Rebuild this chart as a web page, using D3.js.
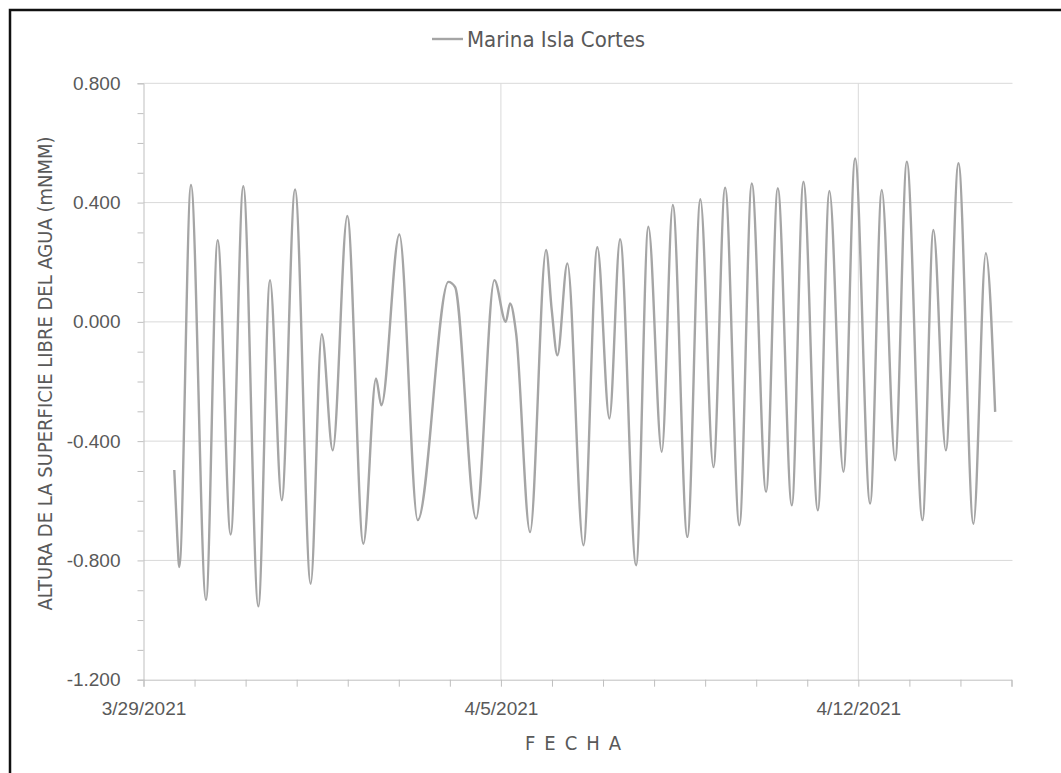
<!DOCTYPE html>
<html>
<head>
<meta charset="utf-8">
<script src="https://cdn.jsdelivr.net/npm/d3@7"></script>
<style>
  body { margin: 0; background: #fff; }
  text { font-family: "Liberation Sans", Arial, sans-serif; fill: #595959; }
</style>
</head>
<body>
<svg id="svg" width="1061" height="773"></svg>
<script>
// nivel del agua, Marina Isla Cortes
const fechas = [
  "2021-03-29 14:28", "2021-03-29 15:53", "2021-03-29 16:49", "2021-03-29 22:19",
  "2021-03-30 05:23", "2021-03-30 10:52", "2021-03-30 16:59", "2021-03-30 22:55",
  "2021-03-31 05:59", "2021-03-31 11:28", "2021-03-31 16:58", "2021-03-31 23:14",
  "2021-04-01 06:36", "2021-04-01 11:47", "2021-04-01 16:57", "2021-04-01 23:48",
  "2021-04-02 07:21", "2021-04-02 13:18", "2021-04-02 15:48", "2021-04-03 00:16",
  "2021-04-03 08:54", "2021-04-03 23:18", "2021-04-04 02:27", "2021-04-04 12:19",
  "2021-04-04 20:56", "2021-04-05 02:17", "2021-04-05 04:18", "2021-04-05 07:08",
  "2021-04-05 13:42", "2021-04-05 21:14", "2021-04-05 23:54", "2021-04-06 02:33",
  "2021-04-06 07:15", "2021-04-06 14:46", "2021-04-06 21:20", "2021-04-07 02:59",
  "2021-04-07 08:01", "2021-04-07 15:33", "2021-04-07 21:19", "2021-04-08 03:37",
  "2021-04-08 08:47", "2021-04-08 15:39", "2021-04-08 21:46", "2021-04-09 03:53",
  "2021-04-09 09:23", "2021-04-09 16:06", "2021-04-09 21:56", "2021-04-10 04:39",
  "2021-04-10 10:09", "2021-04-10 16:44", "2021-04-10 22:12", "2021-04-11 04:58",
  "2021-04-11 10:25", "2021-04-11 16:59", "2021-04-11 22:29", "2021-04-12 05:33",
  "2021-04-12 11:02", "2021-04-12 17:18", "2021-04-12 22:48", "2021-04-13 06:09",
  "2021-04-13 11:18", "2021-04-13 17:08", "2021-04-13 23:04", "2021-04-14 06:07",
  "2021-04-14 11:56", "2021-04-14 16:19"
];
const alturas = [
  -0.497, -0.721, -0.822, 0.459,
  -0.932, 0.274, -0.713, 0.455,
  -0.954, 0.140, -0.598, 0.444,
  -0.878, -0.041, -0.431, 0.355,
  -0.744, -0.190, -0.280, 0.293,
  -0.665, 0.134, 0.117, -0.660,
  0.140, 0.000, 0.062, -0.038,
  -0.705, 0.241, 0.039, -0.112,
  0.196, -0.749, 0.250, -0.324,
  0.277, -0.816, 0.319, -0.436,
  0.392, -0.721, 0.411, -0.487,
  0.450, -0.682, 0.464, -0.570,
  0.448, -0.615, 0.470, -0.632,
  0.439, -0.503, 0.548, -0.609,
  0.442, -0.464, 0.537, -0.665,
  0.308, -0.431, 0.532, -0.677,
  0.230, -0.302
];
const yTicks = [-1.2, -0.8, -0.4, 0, 0.4, 0.8];
const xLabelDates = ["2021-03-29", "2021-04-05", "2021-04-12"];
const serieName = "Marina Isla Cortes";

var width = 1061;
var height = 773;
var margin = {top: 83.3, right: 49.5, bottom: 93.3, left: 143.5};

var parseT = d3.timeParse("%Y-%m-%d %H:%M");
var parseD = d3.timeParse("%Y-%m-%d");
var data = fechas.map((f, i) => ({t: parseT(f), v: alturas[i]}));

var x = d3.scaleTime()
  .domain([parseD("2021-03-29"), parseD("2021-04-15")])
  .range([margin.left, width - margin.right]);

var y = d3.scaleLinear()
  .domain([-1.2, 0.8])
  .range([height - margin.bottom, margin.top]);

var svg = d3.select("#svg");

// marco negro
svg.append("rect")
    .attr("x", 10).attr("y", 10)
    .attr("width", width).attr("height", height)
    .attr("fill", "none")
    .attr("stroke", "#111")
    .attr("stroke-width", 2.5);

// grid horizontal
svg.append("g")
  .selectAll("line")
  .data(yTicks.filter(d => d > -1.2))
  .join("line")
    .attr("x1", x.range()[0])
    .attr("x2", x.range()[1] + 1)
    .attr("y1", d => y(d))
    .attr("y2", d => y(d))
    .attr("stroke", "#d9d9d9")
    .attr("stroke-width", 1);

// grid vertical (semanal)
svg.append("g")
  .selectAll("line")
  .data(xLabelDates.map(parseD).slice(1))
  .join("line")
    .attr("x1", d => x(d))
    .attr("x2", d => x(d))
    .attr("y1", y(0.8))
    .attr("y2", y(-1.2))
    .attr("stroke", "#d9d9d9")
    .attr("stroke-width", 1);

// eje y
var yAxis = svg.append("g")
    .attr("transform", "translate(" + margin.left + ",0)")
    .call(d3.axisLeft(y)
      .tickValues(d3.range(-12, 9).map(d => d / 10))
      .tickSize(6)
      .tickFormat(d => yTicks.some(t => Math.abs(t - d) < 1e-6) ? d.toFixed(3) : ""));
yAxis.select(".domain").attr("stroke", "#bfbfbf");
yAxis.selectAll(".tick line").attr("stroke", "#bfbfbf");
yAxis.selectAll(".tick text")
    .attr("x", -23)
    .style("font-size", "19px")
    .attr("fill", "#595959");

// eje x
var xAxis = svg.append("g")
    .attr("transform", "translate(0," + y(-1.2) + ")")
    .call(d3.axisBottom(x)
      .ticks(d3.timeDay.every(1))
      .tickSize(7)
      .tickFormat(d => xLabelDates.includes(d3.timeFormat("%Y-%m-%d")(d)) ? d3.timeFormat("%-m/%-d/%Y")(d) : ""));
xAxis.select(".domain").attr("stroke", "#bfbfbf");
xAxis.selectAll(".tick line").attr("stroke", "#bfbfbf");
xAxis.selectAll(".tick text")
    .attr("y", 22)
    .style("font-size", "19px")
    .attr("fill", "#595959");

// serie
svg.append("path")
    .datum(data)
    .attr("fill", "none")
    .attr("stroke", "#a5a5a5")
    .attr("stroke-width", 2.4)
    .attr("stroke-linejoin", "round")
    .attr("d", d3.line()
      .x(d => x(d.t))
      .y(d => y(d.v))
      .curve(d3.curveMonotoneX));

// leyenda
svg.append("line")
    .attr("x1", 432).attr("x2", 463)
    .attr("y1", 39).attr("y2", 39)
    .attr("stroke", "#a5a5a5")
    .attr("stroke-width", 2.4);
svg.append("text")
    .attr("x", 467)
    .attr("y", 47)
    .style("font-family", "'Liberation Sans Narrow', 'DejaVu Sans Condensed', sans-serif")
    .style("font-size", "22px")
    .text(serieName);

// titulos de ejes
svg.append("text")
    .attr("transform", "translate(52," + ((y(0.8) + y(-1.2)) / 2 - 8) + ") rotate(-90)")
    .attr("text-anchor", "middle")
    .style("font-family", "'Liberation Sans Narrow', 'DejaVu Sans Condensed', sans-serif")
    .style("font-size", "20px")
    .text("ALTURA DE LA SUPERFICIE LIBRE DEL AGUA (mNMM)");

svg.append("text")
    .attr("x", (x.range()[0] + x.range()[1]) / 2)
    .attr("y", 750)
    .attr("text-anchor", "middle")
    .style("font-family", "'Liberation Sans Narrow', 'DejaVu Sans Condensed', sans-serif")
    .style("font-size", "20px")
    .style("letter-spacing", "9px")
    .text("FECHA");
</script>
</body>
</html>
